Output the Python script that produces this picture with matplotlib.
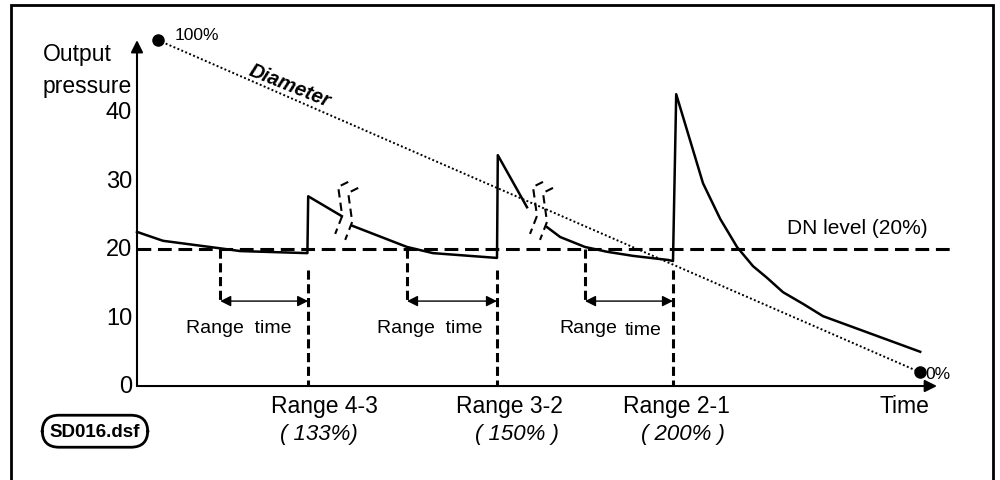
import numpy as np
import matplotlib
matplotlib.use("Agg")
import matplotlib.pyplot as plt
from matplotlib.patches import Rectangle

plt.rcParams['font.family'] = ['Liberation Sans', 'DejaVu Sans']

# pressure curve, gaps (nan) where the break marks sit
seg_x = [0, 3.25, 10.4, 12.9, 21.3, 21.4, 25.6, np.nan,
         26.9, 33.75, 37, 45, 45.1, 48.75, np.nan,
         51.25, 52.9, 56, 58.75, 62, 66.4, 67.0, 67.4, 70.75, 72.9, 75, 77, 78.75,
         80.75, 83.25, 85.75, 97.9]
seg_y = [22.5, 21.2, 20.1, 19.7, 19.4, 27.7, 24.8, np.nan,
         23.4, 20.3, 19.4, 18.7, 33.7, 26.1, np.nan,
         23.2, 21.75, 20.3, 19.6, 19.0, 18.4, 18.25, 42.6, 29.6, 24.4, 20.3, 17.5, 15.8,
         13.7, 12.0, 10.2, 5.0]

diam_x = [2.6, 97.9]
diam_y = [50.5, 2.0]

dn_level = 20
yticks = [0, 10, 20, 30, 40]

# range switching points: start of range time / end of range time
range_start = [10.4, 33.75, 56.0]
range_end = [21.4, 45.0, 67.0]
range_names = ['Range 4-3', 'Range 3-2', 'Range 2-1']
range_pct = ['( 133%)', '( 150% )', '( 200% )']
break_x = [26.4, 50.75]

fig = plt.figure(figsize=(10, 4.81), dpi=100)
ax = fig.add_axes([0, 0, 1, 1])
ax.set_xlim(-17.125, 107.875)
ax.set_ylim(-13.72, 56.5)
ax.axis('off')

# outer frame
fig.patches.append(Rectangle((0.011, -0.1), 0.982, 1.088, transform=fig.transFigure,
                             fill=False, lw=2, ec='black'))

# axes with arrows
ax.annotate('', xy=(0, 50.5), xytext=(0, 0),
            arrowprops=dict(arrowstyle='-|>', lw=1.5, color='black', mutation_scale=18, shrinkA=0, shrinkB=0))
ax.annotate('', xy=(100, 0), xytext=(0, 0),
            arrowprops=dict(arrowstyle='-|>', lw=1.5, color='black', mutation_scale=18, shrinkA=0, shrinkB=0))

for t in yticks:
    ax.text(-0.6, t, str(t), ha='right', va='center', fontsize=17)
ax.text(-11.75, 48.5, 'Output', ha='left', va='center', fontsize=16.5)
ax.text(-11.75, 43.8, 'pressure', ha='left', va='center', fontsize=16.5)

# DN level
ax.plot([0, 102.25], [dn_level, dn_level], color='black', lw=2.2, dashes=(4.5, 2.2))
ax.text(90, 23.2, 'DN level (20%)', ha='center', va='center', fontsize=15)

# diameter
ax.plot(diam_x, diam_y, color='black', lw=1.4, ls=(0, (1, 1.2)))
ax.plot(diam_x, diam_y, 'o', color='black', ms=8)
ax.text(4.75, 51.3, '100%', ha='left', va='center', fontsize=12.5)
ax.text(98.6, 1.8, '0%', ha='left', va='center', fontsize=12.5)
ax.text(19.1, 44.0, 'Diameter', ha='center', va='center', fontsize=14.5,
        fontweight='bold', fontstyle='italic', rotation=-22)

# pressure curve
ax.plot(seg_x, seg_y, color='black', lw=1.8)

# break marks
bx = np.array([0, -10, -6, -13]) / 8
by = -np.array([0, 5, 34, 52]) / 6.85
for b in break_x:
    ax.plot(b + bx, 29.8 + by, color='black', lw=1.5, dashes=(4, 2.5))
    ax.plot(b + bx + 10 / 8, 29.8 + by - 6 / 6.85, color='black', lw=1.5, dashes=(4, 2.5))

# range times
for i in range(3):
    s, e = range_start[i], range_end[i]
    ax.plot([s, s], [dn_level, 12.4], color='black', lw=2.2, dashes=(3, 1.5))
    ax.plot([e, e], [17.0, 0], color='black', lw=2.2, dashes=(3, 1.5))
    ax.annotate('', xy=(e, 12.4), xytext=(s, 12.4),
                arrowprops=dict(arrowstyle='<|-|>', lw=1, color='black', mutation_scale=16,
                                shrinkA=0, shrinkB=0))
ax.text(12.75, 8.6, 'Range  time', ha='center', va='center', fontsize=14)
ax.text(36.6, 8.6, 'Range  time', ha='center', va='center', fontsize=14)
ax.text(56.4, 8.6, 'Range', ha='center', va='center', fontsize=14)
ax.text(63.25, 8.3, 'time', ha='center', va='center', fontsize=14)

name_x = [23.4, 46.5, 67.4]
pct_x = [22.75, 47.5, 68.25]
for i in range(3):
    ax.text(name_x[i], -2.9, range_names[i], ha='center', va='center', fontsize=16.5)
    ax.text(pct_x[i], -7.0, range_pct[i], ha='center', va='center', fontsize=16, fontstyle='italic')
ax.text(95.9, -2.9, 'Time', ha='center', va='center', fontsize=16.5)

ax.text(-5.25, -6.6, 'SD016.dsf', ha='center', va='center', fontsize=13.5, fontweight='bold',
        bbox=dict(boxstyle='round,pad=0.4,rounding_size=0.9', fc='white', ec='black', lw=2))

fig.savefig('out.png', dpi=100)
